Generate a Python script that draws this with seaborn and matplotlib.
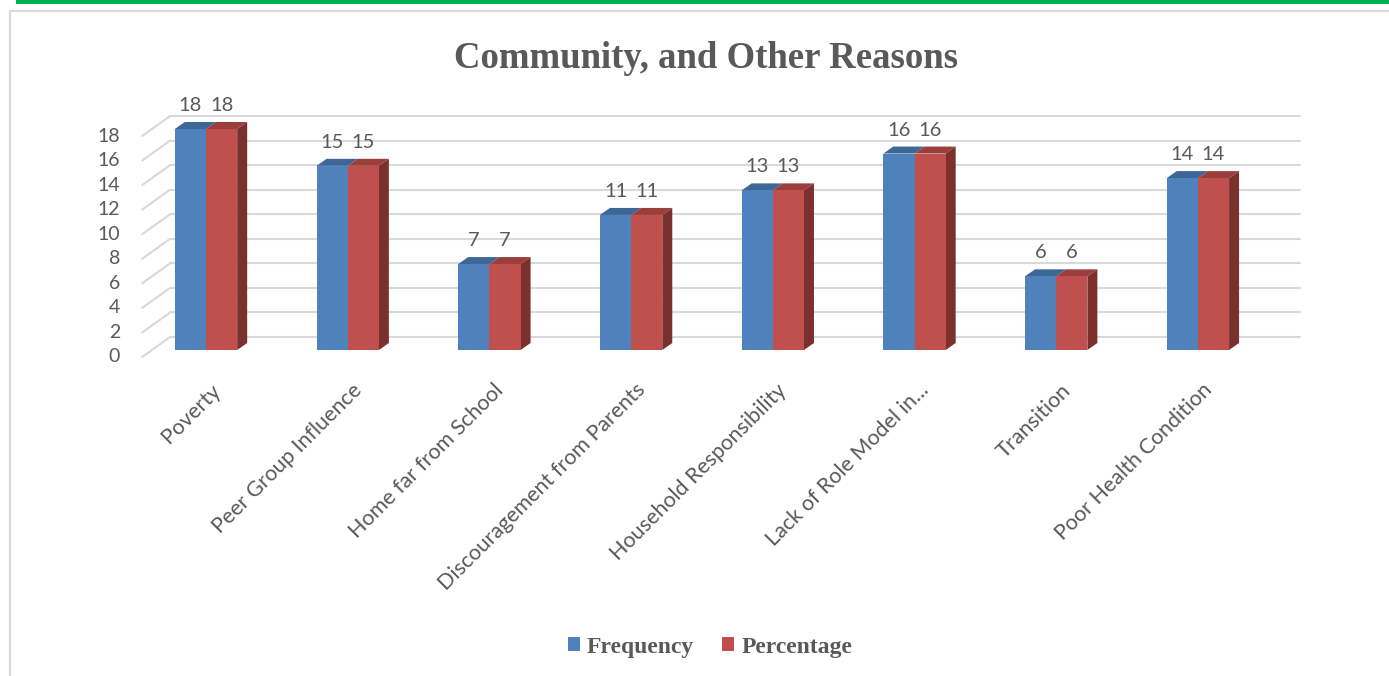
import numpy as np
import pandas as pd
import matplotlib
matplotlib.use("Agg")
import matplotlib.pyplot as plt
from matplotlib.patches import Polygon, Rectangle
from matplotlib.lines import Line2D
from matplotlib.transforms import IdentityTransform, offset_copy
import seaborn as sns

# ---- data -------------------------------------------------------------
reasons = ["Poverty", "Peer Group Influence", "Home far from School",
           "Discouragement from Parents", "Household Responsibility",
           "Lack of Role Model in...", "Transition", "Poor Health Condition"]
frequency = [18, 15, 7, 11, 13, 16, 6, 14]
percentage = [18, 15, 7, 11, 13, 16, 6, 14]
series_names = ["Frequency", "Percentage"]
y_ticks = list(range(0, 20, 2))
title = "Community, and Other Reasons"

df = pd.DataFrame({
    "Reason": reasons * 2,
    "Series": [series_names[0]] * len(reasons) + [series_names[1]] * len(reasons),
    "Value": frequency + percentage,
})

# ---- style ------------------------------------------------------------
BLUE, RED = "#4F81BD", "#C0504D"
TOP_COLS = ["#3C6797", "#9A3F3C"]
SIDE_COLS = ["#2F5280", "#7C302E"]
GRID = "#D9D9D9"
TEXT = "#595959"
SERIF = ["Liberation Serif", "DejaVu Serif"]

sns.set_theme(style="white")
plt.rcParams["font.family"] = ["Lato", "DejaVu Sans"]

W, H = 1389, 676
fig = plt.figure(figsize=(W / 100, H / 100), dpi=100)
fig.patch.set_facecolor("white")

# page decoration: green rule and chart frame
fig.add_artist(Rectangle((16 / W, 1 - 4 / H), 1, 4 / H, transform=fig.transFigure,
                         color="#00B050", lw=0))
fig.add_artist(Rectangle((10 / W, -0.1), 1.2, 1.1 - 11 / H, transform=fig.transFigure,
                         fill=False, ec=GRID, lw=1.6))

# front plane of the bars
ax_left, ax_bottom, ax_w, ax_h = 135.15, 350, 1133.6, 221
ax = fig.add_axes([ax_left / W, 1 - ax_bottom / H, ax_w / W, ax_h / H])
ax.patch.set_alpha(0)

sns.barplot(data=df, x="Reason", y="Value", hue="Series", palette=[BLUE, RED],
            width=0.44, saturation=1, linewidth=0, ax=ax, zorder=3)
ax.set_xlim(-0.5, len(reasons) - 0.5)
ax.set_ylim(0, 18)
ax.set_xticks([])
ax.set_yticks([])
ax.set_xlabel("")
ax.set_ylabel("")
sns.despine(ax=ax, left=True, bottom=True)

T = ax.transData
ident = IdentityTransform()

# perspective offsets (pixels)
DX, DY = 10, 7            # bar depth
BACK = (18, 13)           # back wall relative to bar plane
FRONT = (-10, -7)         # floor front edge relative to bar plane
WALL_L, WALL_R = 17, 13

x0_disp = T.transform((-0.5, 0))[0]
x1_disp = T.transform((len(reasons) - 0.5, 0))[0]

# back wall gridlines and left floor edges
for v in y_ticks:
    yd = T.transform((0, v))[1]
    px = x0_disp + WALL_L
    ax.add_line(Line2D([px + BACK[0], x1_disp + WALL_R + BACK[0]],
                       [yd + BACK[1], yd + BACK[1]], transform=ident,
                       color=GRID, lw=1.5, zorder=1, clip_on=False))
    ax.add_line(Line2D([px + FRONT[0], px + BACK[0]],
                       [yd + FRONT[1], yd + BACK[1]], transform=ident,
                       color=GRID, lw=1.5, zorder=1, clip_on=False))
    ax.text(px + FRONT[0] - 22, yd + FRONT[1], f"{v}", transform=ident,
            ha="right", va="center", fontsize=14, color=TEXT)

# 3-D top and side faces for each bar
for k, cont in enumerate(ax.containers):
    for bar in cont:
        x0, w, h = bar.get_x(), bar.get_width(), bar.get_height()
        (lx, by) = T.transform((x0, 0))
        (rx, ty) = T.transform((x0 + w, h))
        top = [(lx, ty), (rx, ty), (rx + DX, ty + DY), (lx + DX, ty + DY)]
        ax.add_patch(Polygon(top, closed=True, transform=ident, fc=TOP_COLS[k],
                             lw=0, zorder=2, clip_on=False))
        if k == len(ax.containers) - 1:
            side = [(rx, by), (rx, ty), (rx + DX, ty + DY), (rx + DX, by + DY)]
            ax.add_patch(Polygon(side, closed=True, transform=ident,
                                 fc=SIDE_COLS[k], lw=0, zorder=2, clip_on=False))
        ax.text(x0 + w / 2, h, f"{h:g}",
                transform=offset_copy(T, fig=fig, x=0, y=18, units="dots"),
                ha="center", va="baseline", fontsize=14.5, color=TEXT, clip_on=False)

# rotated category labels
lab_tr = offset_copy(T, fig=fig, x=11, y=-37, units="dots")
for i, name in enumerate(reasons):
    ax.text(i, 0, name, transform=lab_tr, rotation=45, rotation_mode="anchor",
            ha="right", va="center", fontsize=15.5, color=TEXT)

# title
fig.text(706 / W, 1 - 68 / H, title, ha="center", va="baseline",
         fontsize=26.5, fontweight="bold", color=TEXT, family=SERIF)

# legend
sns.move_legend(ax, "center", bbox_to_anchor=(710 / W, 1 - 647 / H),
                bbox_transform=fig.transFigure, ncol=2, frameon=False, title=None,
                prop={"family": SERIF, "weight": "bold", "size": 17},
                labelcolor=TEXT, handlelength=0.5, handleheight=0.5,
                handletextpad=0.3, columnspacing=1.2)

fig.savefig("out.png", dpi=100, facecolor="white")
